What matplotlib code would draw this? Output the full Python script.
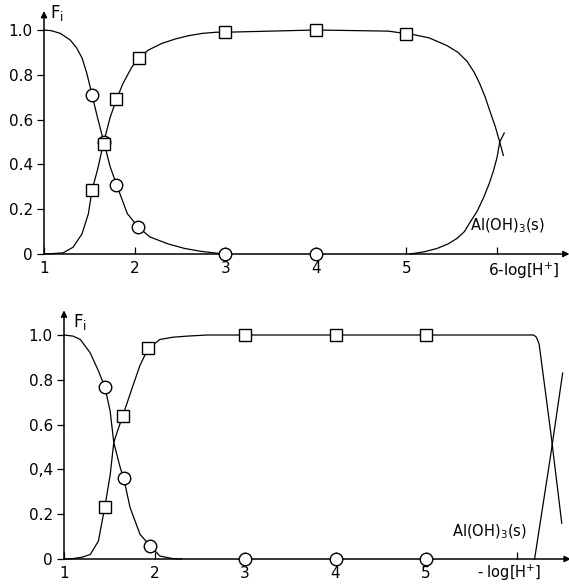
import matplotlib
matplotlib.use("Agg")
import matplotlib.pyplot as plt

plt.rcParams['font.family'] = ['DejaVu Sans']

# ---------------- data: top panel ----------------
top_al_x = [1.0, 1.08, 1.18, 1.29, 1.36, 1.42, 1.47, 1.51, 1.53, 1.59, 1.66, 1.73, 1.80, 1.92, 2.04, 2.17,
            2.37, 2.55, 2.73, 2.9, 3.0]
top_al_y = [1.0, 0.997, 0.985, 0.955, 0.92, 0.875, 0.81, 0.745, 0.71, 0.61, 0.50, 0.39, 0.31, 0.18, 0.12, 0.076,
            0.045, 0.025, 0.012, 0.004, 0.0]
top_oh_x = [1.0, 1.1, 1.21, 1.32, 1.42, 1.49, 1.53, 1.59, 1.66, 1.73, 1.80, 1.87, 1.97, 2.05, 2.15, 2.3, 2.45,
            2.6, 2.75, 2.9, 3.0, 4.0, 4.8,
            5.07, 5.25, 5.45, 5.57, 5.67, 5.75, 5.81, 5.87, 5.92, 5.98, 6.03, 6.07]
top_oh_y = [0.0, 0.002, 0.005, 0.03, 0.09, 0.18, 0.285, 0.375, 0.50, 0.61, 0.69, 0.76, 0.835, 0.875, 0.91, 0.94, 0.96,
            0.975, 0.985, 0.99, 0.99, 1.0, 0.995,
            0.98, 0.965, 0.93, 0.90, 0.86, 0.81, 0.76, 0.70, 0.64, 0.57, 0.50, 0.44]
top_s_x = [5.04, 5.2, 5.34, 5.46, 5.56, 5.64, 5.70, 5.78, 5.85, 5.91, 5.96, 6.0, 6.03, 6.08]
top_s_y = [0.0, 0.01, 0.025, 0.045, 0.07, 0.10, 0.14, 0.19, 0.25, 0.31, 0.37, 0.43, 0.50, 0.54]
top_circ_x = [1.53, 1.66, 1.80, 2.04, 3.0, 4.0]
top_circ_y = [0.71, 0.50, 0.31, 0.12, 0.0, 0.0]
top_sq_x = [1.53, 1.66, 1.80, 2.05, 3.0, 4.0, 5.0]
top_sq_y = [0.285, 0.49, 0.69, 0.875, 0.99, 1.0, 0.98]
top_yticks = [0, 0.2, 0.4, 0.6, 0.8, 1.0]
top_ylabels = ['0', '0.2', '0.4', '0.6', '0.8', '1.0']
top_xticks = [1, 2, 3, 4, 5, 6]
top_xlabels = ['1', '2', '3', '4', '5', '']

# ---------------- data: bottom panel ----------------
bot_al_x = [1.0, 1.1, 1.18, 1.29, 1.38, 1.45, 1.51, 1.55, 1.62, 1.66, 1.73, 1.84, 1.95, 2.06, 2.2, 2.3]
bot_al_y = [1.0, 0.995, 0.98, 0.92, 0.84, 0.77, 0.66, 0.52, 0.41, 0.36, 0.23, 0.11, 0.06, 0.013, 0.002, 0.0]
bot_oh_x = [1.0, 1.1, 1.2, 1.29, 1.38, 1.45, 1.51, 1.55, 1.59, 1.65, 1.75, 1.84, 1.93, 2.06, 2.2, 2.36, 2.58,
            3.0, 4.0, 5.0, 6.19, 6.22, 6.25, 6.38, 6.50]
bot_oh_y = [0.0, 0.002, 0.008, 0.02, 0.08, 0.23, 0.375, 0.52, 0.57, 0.64, 0.76, 0.865, 0.94, 0.98, 0.99, 0.995, 1.0,
            1.0, 1.0, 1.0, 1.0, 0.99, 0.96, 0.56, 0.16]
bot_s_x = [6.2, 6.38, 6.51]
bot_s_y = [0.0, 0.47, 0.83]
bot_circ_x = [1.45, 1.66, 1.95, 3.0, 4.0, 5.0]
bot_circ_y = [0.77, 0.36, 0.06, 0.0, 0.0, 0.0]
bot_sq_x = [1.45, 1.65, 1.93, 3.0, 4.0, 5.0]
bot_sq_y = [0.23, 0.64, 0.94, 1.0, 1.0, 1.0]
bot_yticks = [0, 0.2, 0.4, 0.6, 0.8, 1.0]
bot_ylabels = ['0', '0.2', '0,4', '0.6', '0.8', '1.0']
bot_xticks = [1, 2, 3, 4, 5, 6]
bot_xlabels = ['1', '2', '3', '4', '5', '']

W, H = 569, 585
fig = plt.figure(figsize=(W / 100, H / 100), dpi=100)

def make_axes(left_px, ppu_x, y0_px, ppu_y, xmax, ymax):
    left = left_px / W
    width = (xmax - 1) * ppu_x / W
    bottom = (H - y0_px) / H
    height = ymax * ppu_y / H
    ax = fig.add_axes([left, bottom, width, height])
    ax.set_xlim(1, xmax)
    ax.set_ylim(0, ymax)
    for s in ['top', 'right', 'left', 'bottom']:
        ax.spines[s].set_visible(False)
    ax.patch.set_alpha(0)
    return ax

lw = 0.9
mk = dict(mfc='white', mec='black', mew=1.0, ls='none', clip_on=False, zorder=5)

def style(ax, xticks, xlabels, yticks, ylabels, xmax, yarrow, fs):
    ax.set_xticks(xticks)
    ax.set_xticklabels(xlabels, fontsize=fs)
    ax.set_yticks(yticks)
    ax.set_yticklabels(ylabels, fontsize=fs)
    ax.tick_params(axis='x', direction='in', length=5, width=0.9, pad=5)
    ax.tick_params(axis='y', direction='out', length=5, width=0.9, pad=3)
    ax.annotate('', xy=(xmax, 0), xytext=(1, 0), annotation_clip=False,
                arrowprops=dict(arrowstyle='-|>', lw=1.1, color='black', mutation_scale=9, shrinkA=0, shrinkB=0))
    ax.annotate('', xy=(1, yarrow), xytext=(1, 0), annotation_clip=False,
                arrowprops=dict(arrowstyle='-|>', lw=1.1, color='black', mutation_scale=9, shrinkA=0, shrinkB=0))

# ---------------- top panel ----------------
ax1 = make_axes(44, 90.6, 254, 224, 6.8, 1.1)
ax1.plot(top_al_x, top_al_y, color='black', lw=lw, clip_on=False)
ax1.plot(top_oh_x, top_oh_y, color='black', lw=lw, clip_on=False)
ax1.plot(top_s_x, top_s_y, color='black', lw=lw, clip_on=False)
ax1.plot(top_circ_x, top_circ_y, marker='o', ms=9, **mk)
ax1.plot(top_sq_x, top_sq_y, marker='s', ms=8, **mk)
style(ax1, top_xticks, top_xlabels, top_yticks, top_ylabels, 6.8, 1.085, 11)
ax1.text(1.07, 1.075, r'F$_\mathregular{i}$', fontsize=12, va='center', ha='left')
ax1.text(5.9, -0.075, r'6-log[H$^\mathregular{+}$]', fontsize=11, va='center', ha='left', clip_on=False)
ax1.text(5.7, 0.125, r'Al(OH)$_\mathregular{3}$(s)', fontsize=10.5, va='center', ha='left')

# ---------------- bottom panel ----------------
ax2 = make_axes(64, 90.5, 559, 224, 6.6, 1.12)
ax2.plot(bot_al_x, bot_al_y, color='black', lw=lw, clip_on=False)
ax2.plot(bot_oh_x, bot_oh_y, color='black', lw=lw, clip_on=False)
ax2.plot(bot_s_x, bot_s_y, color='black', lw=lw, clip_on=False)
ax2.plot(bot_circ_x, bot_circ_y, marker='o', ms=9, **mk)
ax2.plot(bot_sq_x, bot_sq_y, marker='s', ms=8, **mk)
style(ax2, bot_xticks, bot_xlabels, bot_yticks, bot_ylabels, 6.6, 1.11, 11)
ax2.text(1.1, 1.06, r'F$_\mathregular{i}$', fontsize=12, va='center', ha='left')
ax2.text(5.56, -0.062, r'- log[H$^\mathregular{+}$]', fontsize=10.5, va='center', ha='left', clip_on=False)
ax2.text(5.29, 0.12, r'Al(OH)$_\mathregular{3}$(s)', fontsize=10.5, va='center', ha='left')

fig.savefig('out.png', dpi=100)
